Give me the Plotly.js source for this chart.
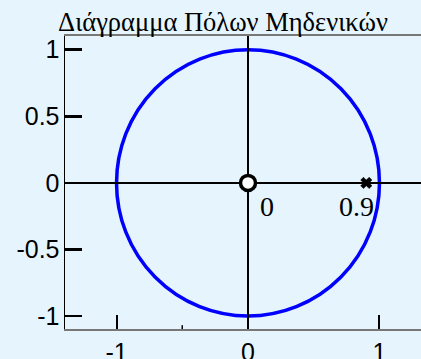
<!DOCTYPE html>
<html>
<head>
<meta charset="utf-8">
<script src="https://cdn.plot.ly/plotly-3.0.1.min.js"></script>
<style>
  html, body { margin: 0; padding: 0; background: #e6f5fd; }
  #plot { width: 421px; height: 359px; }
</style>
</head>
<body>
<div id="plot"></div>
<script>
// Zeros and poles of the transfer function (real parts, imaginary parts)
const zerosRe = [0];
const zerosIm = [0];
const polesRe = [0.9];
const polesIm = [0];
const zeroLabels = ['0'];
const poleLabels = ['0.9'];

// Unit circle radius
const unitRadius = 1;

// Axis ticks
const xTickVals = [-1, 0, 1];
const xTickText = ['-1', '0', '1'];
const yTickVals = [-1, -0.5, 0, 0.5, 1];
const yTickText = ['-1', '-0.5', '0', '0.5', '1'];

const titleText = 'Διάγραμμα Πόλων Μηδενικών';

const bg = '#e6f5fd';
const serif = '"Liberation Serif", "Times New Roman", serif';
const sans = '"Liberation Sans", Arial, sans-serif';

const traces = [
  {
    x: zerosRe, y: zerosIm, type: 'scatter', mode: 'markers',
    marker: { symbol: 'circle', size: 15, color: '#ffffff',
              line: { color: '#000000', width: 3.5 } },
    hoverinfo: 'skip', showlegend: false
  },
  {
    x: polesRe, y: polesIm, type: 'scatter', mode: 'markers',
    marker: { symbol: 'x', size: 10, color: '#000000',
              line: { color: '#000000', width: 0.5 } },
    hoverinfo: 'skip', showlegend: false
  }
];

// Value labels beside each zero/pole
const labelShift = { zero: 19, pole: -10 };
const annotations = [];
zerosRe.forEach((v, i) => annotations.push({
  x: v, y: zerosIm[i], xref: 'x', yref: 'y', text: zeroLabels[i],
  showarrow: false, xshift: labelShift.zero, yshift: -24,
  font: { family: serif, size: 28, color: '#000000' }
}));
polesRe.forEach((v, i) => annotations.push({
  x: v, y: polesIm[i], xref: 'x', yref: 'y', text: poleLabels[i],
  showarrow: false, xshift: labelShift.pole, yshift: -24,
  font: { family: serif, size: 28, color: '#000000' }
}));

const layout = {
  width: 421, height: 359,
  margin: { l: 65, r: 0, t: 36, b: 30, pad: 0 },
  paper_bgcolor: bg, plot_bgcolor: bg,
  title: {
    text: titleText, x: 223 / 421, xref: 'container', xanchor: 'center',
    y: 1 - 22 / 359, yref: 'container', yanchor: 'middle',
    font: { family: serif, size: 26.5, color: '#000000' }
  },
  xaxis: {
    range: [-1.392, 1.316],
    tickvals: xTickVals, ticktext: xTickText,
    ticks: 'inside', ticklen: 14, tickwidth: 2, tickcolor: '#000000',
    showline: true, linecolor: '#777777', linewidth: 2, mirror: true,
    showgrid: false,
    zeroline: true, zerolinecolor: '#000000', zerolinewidth: 2.5,
    tickfont: { family: sans, size: 25, color: '#000000' },
    fixedrange: true
  },
  yaxis: {
    range: [-1.097, 1.103],
    tickvals: yTickVals, ticktext: yTickText,
    ticks: 'inside', ticklen: 17, tickwidth: 2.5, tickcolor: '#000000',
    showline: true, linecolor: '#000000', linewidth: 1.5,
    showgrid: false,
    zeroline: true, zerolinecolor: '#000000', zerolinewidth: 2.5,
    tickfont: { family: sans, size: 25, color: '#000000' },
    ticklabelstandoff: -1,
    fixedrange: true
  },
  shapes: [
    {
      type: 'circle', xref: 'x', yref: 'y', layer: 'below',
      x0: -unitRadius, y0: -unitRadius, x1: unitRadius, y1: unitRadius,
      line: { color: '#0000ff', width: 3.5 }
    },
    // short minor tick on the real axis
    {
      type: 'line', xref: 'x', yref: 'paper',
      x0: -0.5, x1: -0.5, y0: 0, y1: 0.013,
      line: { color: '#000000', width: 1.5 }
    }
  ],
  annotations: annotations,
  showlegend: false
};

Plotly.newPlot('plot', traces, layout, { displayModeBar: false, staticPlot: true });
</script>
</body>
</html>
